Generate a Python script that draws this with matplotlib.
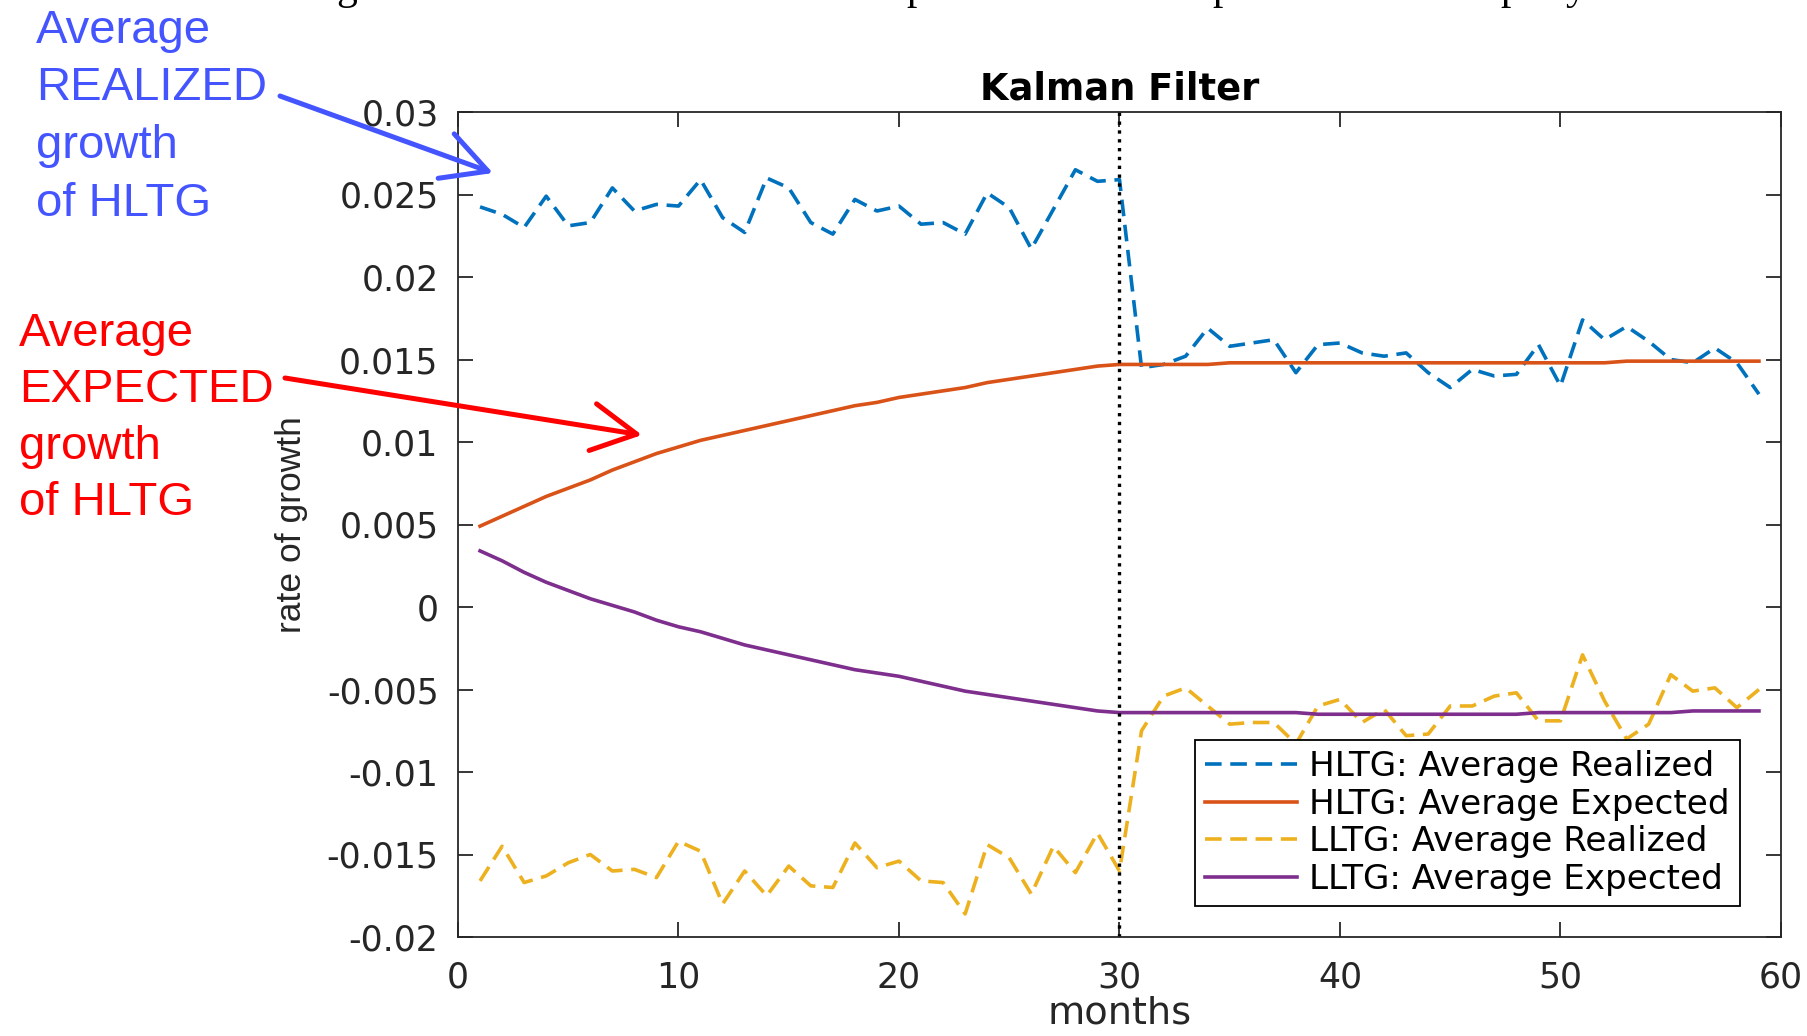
import matplotlib
matplotlib.use("Agg")
import matplotlib.pyplot as plt

# data
months = list(range(1, 60))
break_month = 30

hltg_realized = [0.02425, 0.0238, 0.0230, 0.0249, 0.0231, 0.0233, 0.0254, 0.0240, 0.0244, 0.0243,
                 0.0259, 0.0236, 0.0227, 0.0260, 0.0254, 0.0233, 0.0226, 0.0247, 0.0240, 0.0243,
                 0.0232, 0.0233, 0.0226, 0.0251, 0.0242, 0.0217, 0.0241, 0.0265, 0.0258, 0.0259,
                 0.0145, 0.0147, 0.0152, 0.0169, 0.0158, 0.0160, 0.0162, 0.0142, 0.0159, 0.0160,
                 0.0154, 0.0152, 0.0154, 0.0142, 0.0133, 0.0144, 0.0140, 0.0141, 0.0159, 0.0134,
                 0.0174, 0.0162, 0.0170, 0.0161, 0.0150, 0.0148, 0.0157, 0.0148, 0.0129]

hltg_expected = [0.0049, 0.0055, 0.0061, 0.0067, 0.0072, 0.0077, 0.0083, 0.0088, 0.0093, 0.0097,
                 0.0101, 0.0104, 0.0107, 0.0110, 0.0113, 0.0116, 0.0119, 0.0122, 0.0124, 0.0127,
                 0.0129, 0.0131, 0.0133, 0.0136, 0.0138, 0.0140, 0.0142, 0.0144, 0.0146, 0.0147,
                 0.0147, 0.0147, 0.0147, 0.0147, 0.0148, 0.0148, 0.0148, 0.0148, 0.0148, 0.0148,
                 0.0148, 0.0148, 0.0148, 0.0148, 0.0148, 0.0148, 0.0148, 0.0148, 0.0148, 0.0148,
                 0.0148, 0.0148, 0.0149, 0.0149, 0.0149, 0.0149, 0.0149, 0.0149, 0.0149]

lltg_realized = [-0.0166, -0.0145, -0.0167, -0.0163, -0.0155, -0.0150, -0.0160, -0.0159, -0.0164, -0.0142,
                 -0.0148, -0.0180, -0.0160, -0.0175, -0.0157, -0.0169, -0.0170, -0.0143, -0.0158, -0.0154,
                 -0.0166, -0.0167, -0.0186, -0.0144, -0.0152, -0.0174, -0.0145, -0.0161, -0.0137, -0.0160,
                 -0.0075, -0.0054, -0.0049, -0.0060, -0.0071, -0.0070, -0.0070, -0.0083, -0.0060, -0.0056,
                 -0.0070, -0.0062, -0.0078, -0.0077, -0.0060, -0.0060, -0.0054, -0.0052, -0.0069, -0.0069,
                 -0.0029, -0.0057, -0.0080, -0.0071, -0.0041, -0.0051, -0.0049, -0.0061, -0.0050]

lltg_expected = [0.0034, 0.0028, 0.0021, 0.0015, 0.0010, 0.0005, 0.0001, -0.0003, -0.0008, -0.0012,
                 -0.0015, -0.0019, -0.0023, -0.0026, -0.0029, -0.0032, -0.0035, -0.0038, -0.0040, -0.0042,
                 -0.0045, -0.0048, -0.0051, -0.0053, -0.0055, -0.0057, -0.0059, -0.0061, -0.0063, -0.0064,
                 -0.0064, -0.0064, -0.0064, -0.0064, -0.0064, -0.0064, -0.0064, -0.0064, -0.0065, -0.0065,
                 -0.0065, -0.0065, -0.0065, -0.0065, -0.0065, -0.0065, -0.0065, -0.0065, -0.0064, -0.0064,
                 -0.0064, -0.0064, -0.0064, -0.0064, -0.0064, -0.0063, -0.0063, -0.0063, -0.0063]

series_labels = ["HLTG: Average Realized", "HLTG: Average Expected",
                 "LLTG: Average Realized", "LLTG: Average Expected"]
x_ticks = [0, 10, 20, 30, 40, 50, 60]
y_ticks = [-0.02, -0.015, -0.01, -0.005, 0, 0.005, 0.01, 0.015, 0.02, 0.025, 0.03]

blue_note = ["Average", "REALIZED", "growth", "of HLTG"]
red_note = ["Average", "EXPECTED", "growth", "of HLTG"]

plt.rcParams["axes.unicode_minus"] = False
plt.rcParams["font.family"] = "DejaVu Sans"

W, H = 1808, 1036
fig = plt.figure(figsize=(W / 100, H / 100), dpi=100)
ax = fig.add_axes([458 / W, 1 - 937 / H, (1781 - 458) / W, (937 - 112) / H])

lw = 2.6
dash = (4.6, 2.4)
ax.plot(months, hltg_realized, color="#0072BD", lw=lw, dashes=dash, label=series_labels[0])
ax.plot(months, hltg_expected, color="#D95319", lw=lw, label=series_labels[1])
ax.plot(months, lltg_realized, color="#EDB120", lw=lw, dashes=dash, label=series_labels[2])
ax.plot(months, lltg_expected, color="#7E2F8E", lw=lw, label=series_labels[3])
ax.axvline(break_month, color="black", ls=":", lw=2.4)

ax.set_xlim(0, 60)
ax.set_ylim(-0.02, 0.03)
ax.set_xticks(x_ticks)
ax.set_yticks(y_ticks)
ax.set_yticklabels(["%g" % v for v in y_ticks])

dark = "#262626"
for s in ax.spines.values():
    s.set_linewidth(1.3)
    s.set_color(dark)
ax.tick_params(direction="in", length=10.8, width=1.3, top=True, right=True,
               labelsize=25, color=dark, labelcolor=dark)
ax.tick_params(axis="x", pad=17)
ax.tick_params(axis="y", pad=14)

ax.set_title("Kalman Filter", fontsize=26.5, fontweight="bold", pad=9)
ax.set_xlabel("months", fontsize=27.5, color=dark, labelpad=1)
ax.set_ylabel("rate of growth", fontsize=25.5, color=dark, family="Liberation Sans", labelpad=13)

leg = ax.legend(loc="lower right", bbox_to_anchor=((1740 - 458) / 1323, (937 - 906) / 825),
                fontsize=24.6, fancybox=False, edgecolor="black", framealpha=1,
                handlelength=2.7, handletextpad=0.35, labelspacing=0.13,
                borderpad=0.3, borderaxespad=0)
leg.get_frame().set_linewidth(1.3)

# annotations added on top of the figure
blue = "#4455FF"
red = "#FF0000"
for i, line in enumerate(blue_note):
    fig.text(36 / W, 1 - (43 + 57.5 * i) / H, line, color=blue, fontsize=34,
             family="Liberation Sans", va="baseline")
for i, line in enumerate(red_note):
    fig.text(19 / W, 1 - (346 + 56.3 * i) / H, line, color=red, fontsize=34,
             family="Liberation Sans", va="baseline")

head = "->,head_length=3.2,head_width=1.7"
ax.annotate("", xy=(493 / W, 1 - 173 / H), xytext=(280 / W, 1 - 96 / H),
            xycoords="figure fraction", textcoords="figure fraction", annotation_clip=False,
            arrowprops=dict(arrowstyle=head, color=blue, lw=3.6, shrinkA=0, shrinkB=0,
                            mutation_scale=10))
ax.annotate("", xy=(642 / W, 1 - 435 / H), xytext=(285 / W, 1 - 378 / H),
            xycoords="figure fraction", textcoords="figure fraction", annotation_clip=False,
            arrowprops=dict(arrowstyle=head, color=red, lw=3.6, shrinkA=0, shrinkB=0,
                            mutation_scale=10))

# descenders of the cut-off text line above the chart
for ch, x in [("g", 336), ("p", 906), ("p", 1212), ("p", 1500), ("y", 1566)]:
    fig.text(x / W, 1 + 1 / H, ch, fontsize=30, family="Liberation Serif", va="baseline")

fig.savefig("out.png", dpi=100)
